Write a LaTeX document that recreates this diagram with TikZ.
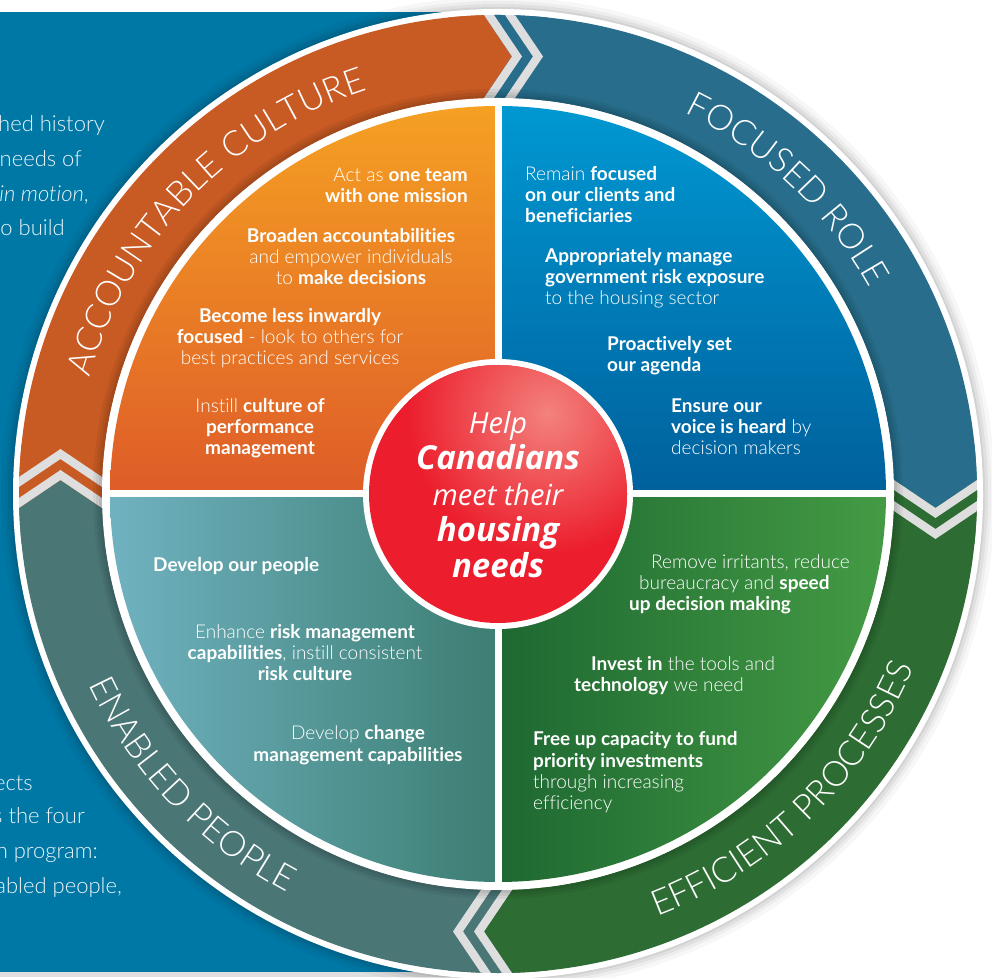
\documentclass[tikz,border=0pt]{standalone}
\usepackage{fontspec}
\setmainfont{Lato}[Ligatures=NoCommon]
\newfontfamily\lightfont{Lato Light}[Ligatures=NoCommon, BoldFont={Lato Bold}, ItalicFont={Lato Light Italic}]
\newfontfamily\centrefont{Open Sans}
\usepackage{xcolor}
\usetikzlibrary{calc, decorations.text}

\definecolor{pageblue}{RGB}{0,120,166}
\definecolor{ringorange}{RGB}{200,90,35}
\definecolor{ringblue}{RGB}{40,110,140}
\definecolor{ringgreen}{RGB}{45,108,50}
\definecolor{ringteal}{RGB}{74,118,117}
\definecolor{stripegrey}{RGB}{222,222,222}
\definecolor{orangetop}{RGB}{245,160,35}
\definecolor{orangebot}{RGB}{222,92,40}
\definecolor{bluetop}{RGB}{0,152,210}
\definecolor{bluebot}{RGB}{0,96,156}
\definecolor{greenleft}{RGB}{30,104,50}
\definecolor{greenright}{RGB}{68,155,68}
\definecolor{tealleft}{RGB}{112,178,192}
\definecolor{tealright}{RGB}{60,126,114}
\definecolor{centrered}{RGB}{236,30,45}
\definecolor{centrelight}{RGB}{243,130,125}

\newcommand{\ringfont}{\lightfont\fontsize{35}{35}\selectfont}
\newcommand{\bigbf}[1]{\textbf{\fontsize{33}{36}\selectfont #1}}

% ring piece from angle #2 to angle #3
\newcommand{\ringpiece}[3]{%
  \fill[#1] ($(C)+(#2:479)$) arc[start angle=#2, end angle=#3, radius=479]
    -- ($(C)+(#3:396)$) arc[start angle=#3, end angle=#2, radius=396] -- cycle;}

% chevron joint at angle #1, colour before #2, colour after #3
\newcommand{\ringjoint}[3]{%
  \begin{scope}
    \clip (C) circle[radius=479];
    \begin{scope}[shift={(C)}, rotate=#1-90]
      \fill[#2] (-50,380) -- (-50,490) -- (-14,490) -- (-14,479) -- (14,437.5)
        -- (-14,396) -- (-14,380) -- cycle;
      \fill[#3] (50,380) -- (50,490) -- (-14,490) -- (-14,479) -- (14,437.5)
        -- (-14,396) -- (-14,380) -- cycle;
      \draw[stripe] (-9,479) -- (19,437.5) -- (-9,396);
      \draw[stripe] (12,479) -- (40,437.5) -- (12,396);
    \end{scope}
  \end{scope}}

\begin{document}
\begin{tikzpicture}[x=1pt, y=1pt,
    stripe/.style={stripegrey, line width=8.3, line join=miter,
      shorten <=-12pt, shorten >=-12pt},
    pagetext/.style={text=white!92!pageblue, inner sep=0pt, anchor=base east,
      font=\lightfont\fontsize{22}{22}\selectfont},
    quad/.style={text=white, inner sep=0pt,
      font=\lightfont\fontsize{19}{21}\selectfont},
    ringlabel/.style={decorate, decoration={text along path, text align=center,
      text color=white, text={|\ringfont|#1}}}]
    \useasboundingbox (0,0) rectangle (992,977);
    \fill[white] (0,0) rectangle (992,977);

    % page behind the wheel
    \fill[pageblue] (0,5) rectangle (520,965);
    \fill[gray!25] (0,0) rectangle (520,5);
    \node[pagetext] (hist1) at (105,845) {hed history};
    \node[pagetext] (hist2) at (82,810) {needs of};
    \node[pagetext] (hist3) at (89,775) {\textit{in motion},};
    \node[pagetext] (hist4) at (65,741) {o build};
    \node[pagetext] (prog1) at (33,187) {ects};
    \node[pagetext] (prog2) at (85,154) {s the four};
    \node[pagetext] (prog3) at (98,119) {n program:};
    \node[pagetext] (prog4) at (122,84) {abled people,};

    \coordinate (C) at (498,483);

    % shadow and white rim
    \foreach \r/\o in {497/0.03, 493/0.04, 490/0.05, 487/0.06}
      \fill[black, opacity=\o] (C) circle[radius=\r];
    \fill[white] (C) circle[radius=485];

    % outer ring
    \ringpiece{ringorange}{180}{90}
    \ringpiece{ringblue}{90}{0}
    \ringpiece{ringgreen}{0}{-90}
    \ringpiece{ringteal}{-90}{-180}
    \ringjoint{90}{ringorange}{ringblue}
    \ringjoint{0}{ringblue}{ringgreen}
    \ringjoint{-90}{ringgreen}{ringteal}
    \ringjoint{180}{ringteal}{ringorange}

    \path[ringlabel={ACCOUNTABLE CULTURE}] ($(C)+(206:425)$) arc[start angle=206, end angle=66, radius=425];
    \path[ringlabel={FOCUSED ROLE}] ($(C)+(116.5:425)$) arc[start angle=116.5, end angle=-23.5, radius=425];
    \path[ringlabel={EFFICIENT PROCESSES}] ($(C)+(-116:451)$) arc[start angle=-116, end angle=24, radius=451];
    \path[ringlabel={ENABLED PEOPLE}] ($(C)+(-206.5:451)$) arc[start angle=-206.5, end angle=-66.5, radius=451];

    % inner quadrants
    \foreach \r/\o in {405/0.05, 402/0.06, 399/0.07}
      \fill[black, opacity=\o] (C) circle[radius=\r];
    \fill[white] (C) circle[radius=396];
    \shade[top color=orangetop, bottom color=orangebot] (C) -- ++(180:388)
      arc[start angle=180, end angle=90, radius=388] -- cycle;
    \shade[top color=bluetop, bottom color=bluebot] (C) -- ++(90:388)
      arc[start angle=90, end angle=0, radius=388] -- cycle;
    \shade[left color=greenleft, right color=greenright] (C) -- ++(0:388)
      arc[start angle=0, end angle=-90, radius=388] -- cycle;
    \shade[left color=tealleft, right color=tealright] (C) -- ++(-90:388)
      arc[start angle=-90, end angle=-180, radius=388] -- cycle;
    \draw[white, line width=7] ($(C)+(0,392)$) -- ($(C)+(0,-392)$);
    \draw[white, line width=7] ($(C)+(-392,0)$) -- ($(C)+(392,0)$);

    % Accountable culture
    \node[quad, align=right, anchor=base east] (oneteam) at (468,774)
      {Act as \textbf{one team}\\\textbf{with one mission}};
    \node[quad, align=center, anchor=base] (broaden) at (351,692)
      {\textbf{Broaden accountabilities}\\and empower individuals\\to \textbf{make decisions}};
    \node[quad, align=center, anchor=base] (inward) at (290,612)
      {\textbf{Become less inwardly}\\\textbf{focused} - look to others for\\best practices and services};
    \node[quad, align=center, anchor=base] (perform) at (260,522)
      {Instill \textbf{culture of}\\\textbf{performance}\\\textbf{management}};

    % Focused role
    \node[quad, align=left, anchor=base west] (clients) at (525,754)
      {Remain \textbf{focused}\\\textbf{on our clients and}\\\textbf{beneficiaries}};
    \node[quad, align=left, anchor=base west] (risk) at (545,672)
      {\textbf{Appropriately manage}\\\textbf{government risk exposure}\\to the housing sector};
    \node[quad, align=left, anchor=base west] (agenda) at (607,605)
      {\textbf{Proactively set}\\\textbf{our agenda}};
    \node[quad, align=left, anchor=base west] (voice) at (671,522)
      {\textbf{Ensure our}\\\textbf{voice is heard} by\\decision makers};

    % Enabled people
    \node[quad, anchor=base west] (people) at (153,405) {\textbf{Develop our people}};
    \node[quad, align=center, anchor=base] (riskmgmt) at (305,296)
      {Enhance \textbf{risk management}\\\textbf{capabilities}, instill consistent\\\textbf{risk culture}};
    \node[quad, align=center, anchor=base] (change) at (358,216)
      {Develop \textbf{change}\\\textbf{management capabilities}};

    % Efficient processes
    \node[quad, align=left, anchor=base west] (irritants) at (629,366)
      {\hspace*{22pt}Remove irritants, reduce\\\hspace*{10pt}bureaucracy and \textbf{speed}\\\textbf{up decision making}};
    \node[quad, align=left, anchor=base west] (invest) at (574,285)
      {\hspace*{17pt}\textbf{Invest in} the tools and\\\textbf{technology} we need};
    \node[quad, align=left, anchor=base west] (capacity) at (533,168)
      {\textbf{Free up capacity to fund}\\\textbf{priority investments}\\through increasing\\efficiency};

    % Central goal
    \fill[white] (C) circle[radius=135];
    \fill[centrered] (C) circle[radius=129];
    \begin{scope}
      \clip (C) circle[radius=129];
      \shade[inner color=centrelight, outer color=centrered] ($(C)+(50,80)$) circle[radius=140];
    \end{scope}
    \node[text=white, align=center, inner sep=0pt, anchor=base,
      font=\centrefont\itshape\fontsize{29}{36}\selectfont] (goal) at (498,399)
      {Help\\\bigbf{Canadians}\\meet their\\\bigbf{housing}\\\bigbf{needs}};
\end{tikzpicture}
\end{document}
